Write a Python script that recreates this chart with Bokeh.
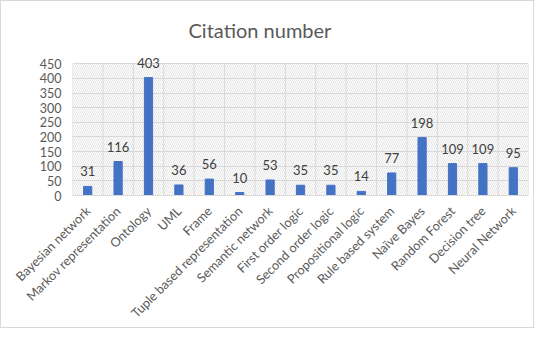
import math
from bokeh.plotting import figure
from bokeh.models import ColumnDataSource, FixedTicker, BoxAnnotation, LabelSet
from bokeh.core.properties import value
from bokeh.embed import file_html
from bokeh.resources import INLINE

categories = ["Bayesian network", "Markov representation", "Ontology", "UML", "Frame",
              "Tuple based representation", "Semantic network", "First order logic",
              "Second order logic", "Propositional logic", "Rule based system",
              "Naïve Bayes", "Random Forest", "Decision tree", "Neural Network"]
citations = [31, 116, 403, 36, 56, 10, 53, 35, 35, 14, 77, 198, 109, 109, 95]
y_ticks = [0, 50, 100, 150, 200, 250, 300, 350, 400, 450]

n = len(categories)
centers = [i + 0.5 for i in range(n)]
bounds = list(range(n + 1))
ymax = y_ticks[-1]
source = ColumnDataSource(dict(x=centers, top=citations, label=[str(v) for v in citations]))

FONT = "Lato"
GRAY = "#595959"
GRID = "#d9d9d9"

p = figure(width=534, height=328, output_backend="svg", toolbar_location=None,
           x_range=(0, n), y_range=(0, 475),
           min_border_left=71, min_border_right=7, min_border_top=55, min_border_bottom=132,
           styles={"border": "1px solid #d9d9d9"})

p.title.text = "Citation number"
p.title.text_font = FONT
p.title.text_font_size = "20px"
p.title.text_font_style = "normal"
p.title.text_color = GRAY
p.title.align = "left"
p.title.offset = 116
p.title.standoff = 29

p.outline_line_color = None
p.background_fill_color = "white"
p.border_fill_color = "white"

hatch = BoxAnnotation(left=0, right=n, bottom=0, top=ymax,
                      fill_alpha=0, line_color=None, hatch_pattern="\\", hatch_color="#d4d4d4",
                      hatch_scale=4, hatch_weight=0.6, level="underlay")
p.add_layout(hatch)

# vertical category-boundary grid lines
p.segment(x0=bounds, y0=[0] * len(bounds), x1=bounds, y1=[ymax] * len(bounds),
          line_color=GRID, line_width=1)

p.vbar(x="x", top="top", width=0.27, source=source, color="#4472C4")

labels = LabelSet(x="x", y="top", text="label", source=source, text_align="center",
                  text_baseline="alphabetic", y_offset=10, text_font_size="13px",
                  text_color="#404040", text_font=value(FONT))
p.add_layout(labels)

# grids
p.xgrid.visible = False
p.ygrid.ticker = FixedTicker(ticks=y_ticks)
p.ygrid.grid_line_color = GRID

# x axis
p.xaxis.ticker = FixedTicker(ticks=centers)
p.xaxis.major_label_overrides = {c: name for c, name in zip(centers, categories)}
p.xaxis.major_label_orientation = math.pi / 4
p.xaxis.major_label_text_font = FONT
p.xaxis.major_label_text_font_size = "12.7px"
p.xaxis.major_label_text_color = GRAY
p.xaxis.axis_line_color = GRID
p.xaxis.major_tick_line_color = None
p.xaxis.minor_tick_line_color = None
p.xaxis.major_tick_out = 0
p.xaxis.major_tick_in = 0
p.xaxis.major_label_standoff = 13

# y axis
p.yaxis.ticker = FixedTicker(ticks=y_ticks)
p.yaxis.major_label_text_font = FONT
p.yaxis.major_label_text_font_size = "12.5px"
p.yaxis.major_label_text_color = GRAY
p.yaxis.axis_line_color = None
p.yaxis.major_tick_line_color = None
p.yaxis.minor_tick_line_color = None
p.yaxis.major_tick_out = 0
p.yaxis.major_tick_in = 0
p.yaxis.major_label_standoff = 11

open("out.html", "w").write(file_html(p, INLINE))
